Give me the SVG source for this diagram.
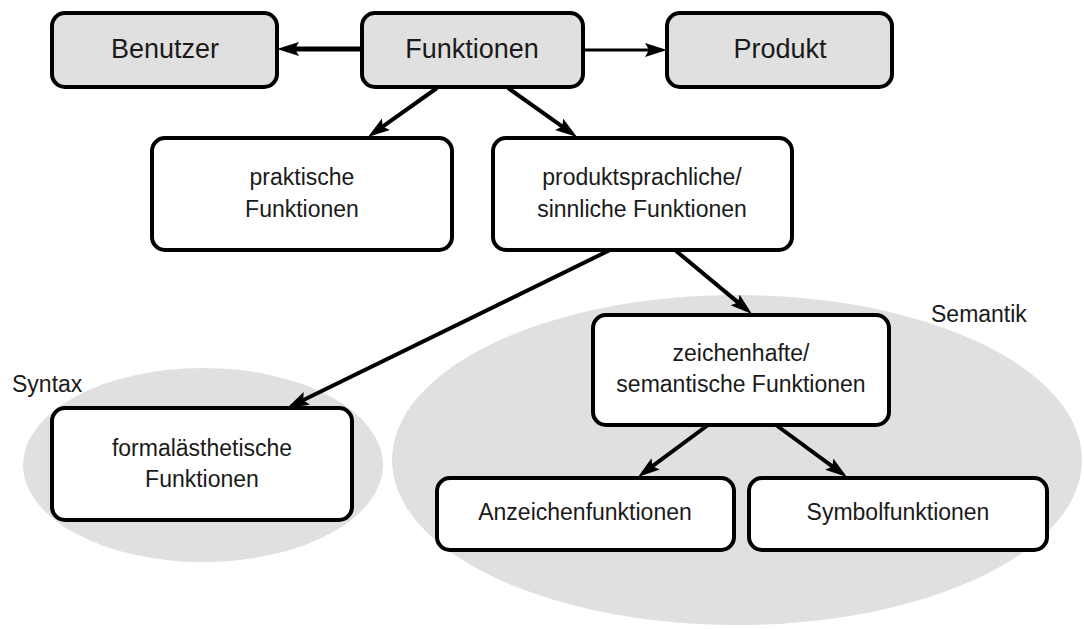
<svg xmlns="http://www.w3.org/2000/svg" width="1084" height="629" viewBox="0 0 1084 629">
<style>
.bg{fill:#ffffff}
.area{fill:#e0e0e0;stroke:none}
.box{fill:#ffffff;stroke:#000000;stroke-width:4}
.grey{fill:#e0e0e0}
text{font-family:"Liberation Sans","DejaVu Sans",sans-serif;fill:#1a1a1a;text-anchor:middle}
.top{font-size:27px}
.lbl{font-size:23px}
.area-lbl{font-size:23px;text-anchor:start}
.edge{stroke:#000000;stroke-width:4;fill:none;marker-end:url(#arrow)}
</style>
<defs>
<marker id="arrow" markerUnits="userSpaceOnUse" markerWidth="24" markerHeight="16" refX="14" refY="7" orient="auto">
<path d="M0,0 L22,7 L0,14 L4,7 Z" fill="#000000"/>
</marker>
</defs>
<rect class="bg" x="0" y="0" width="1084" height="629"/>
<g id="areas">
<ellipse class="area" cx="203" cy="465" rx="180" ry="97"/>
<ellipse class="area" cx="737" cy="460" rx="345" ry="165"/>
<text class="area-lbl" x="12" y="392">Syntax</text>
<text class="area-lbl" x="931" y="322">Semantik</text>
</g>
<g id="connectors">
<line class="edge" x1="362" y1="49" x2="285" y2="49" style="stroke-width:5"/>
<line class="edge" x1="583" y1="50" x2="659" y2="50" style="stroke-width:3"/>
<line class="edge" x1="437" y1="88" x2="374.5" y2="132.4"/>
<line class="edge" x1="508" y1="88" x2="570.5" y2="132.4"/>
<line class="edge" x1="610" y1="250" x2="294.2" y2="404.5"/>
<line class="edge" x1="675" y1="250" x2="745.8" y2="308.9"/>
<line class="edge" x1="708" y1="425" x2="644.4" y2="472.2"/>
<line class="edge" x1="776" y1="425" x2="840.5" y2="472.3"/>
</g>
<g id="benutzer">
<rect class="box grey" x="52" y="13" width="225" height="74" rx="13"/>
<text class="top" x="165" y="58">Benutzer</text>
</g>
<g id="funktionen">
<rect class="box grey" x="362" y="13" width="221" height="74" rx="13"/>
<text class="top" x="472" y="58">Funktionen</text>
</g>
<g id="produkt">
<rect class="box grey" x="667" y="13" width="225" height="74" rx="13"/>
<text class="top" x="780" y="58">Produkt</text>
</g>
<g id="praktische">
<rect class="box" x="152" y="138" width="300" height="112" rx="13"/>
<text class="lbl" x="302" y="185">praktische</text>
<text class="lbl" x="302" y="217">Funktionen</text>
</g>
<g id="produktsprachliche">
<rect class="box" x="493" y="138" width="299" height="112" rx="13"/>
<text class="lbl" x="642" y="185">produktsprachliche/</text>
<text class="lbl" x="642" y="217">sinnliche Funktionen</text>
</g>
<g id="formalaesthetische">
<rect class="box" x="52" y="408" width="300" height="112" rx="13"/>
<text class="lbl" x="202" y="456">formalästhetische</text>
<text class="lbl" x="202" y="487">Funktionen</text>
</g>
<g id="zeichenhafte">
<rect class="box" x="593" y="315" width="296" height="110" rx="13"/>
<text class="lbl" x="741" y="361">zeichenhafte/</text>
<text class="lbl" x="741" y="392">semantische Funktionen</text>
</g>
<g id="anzeichen">
<rect class="box" x="437" y="478" width="297" height="72" rx="13"/>
<text class="lbl" x="585" y="520">Anzeichenfunktionen</text>
</g>
<g id="symbol">
<rect class="box" x="749" y="478" width="298" height="72" rx="13"/>
<text class="lbl" x="898" y="520">Symbolfunktionen</text>
</g>
</svg>
